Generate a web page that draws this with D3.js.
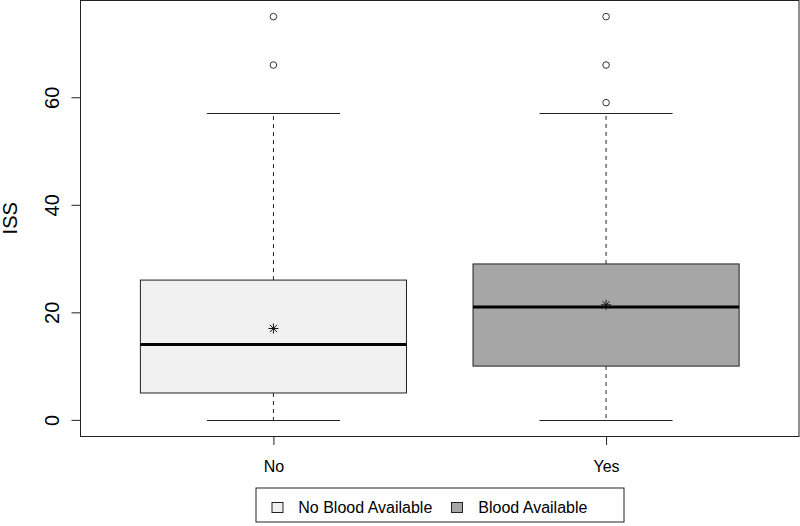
<!DOCTYPE html>
<html>
<head>
<meta charset="utf-8">
<script src="https://cdn.jsdelivr.net/npm/d3@7"></script>
<style>
  html, body { margin: 0; padding: 0; background: #fff; }
  svg { display: block; font-family: "Liberation Sans", Arial, sans-serif; }
</style>
</head>
<body>
<svg id="chart" width="800" height="526"></svg>
<script>
// ---- data ----
const categories = ["No", "Yes"];
const legendLabels = ["No Blood Available", "Blood Available"];
const fills = ["#f0f0f0", "#a6a6a6"];
const whiskerLow = [0, 0];
const q1 = [5, 10];
const median = [14, 21];
const q3 = [26, 29];
const whiskerHigh = [57, 57];
const means = [17.0, 21.4];
const outliers = [[66, 75], [59, 66, 75]];
const yTicks = [0, 20, 40, 60];
const yLabel = "ISS";

// ---- layout ----
const svg = d3.select("#chart");
const plot = { left: 80.5, right: 799, top: 0.5, bottom: 436 };

const x = d3.scaleLinear().domain([0.42, 2.58]).range([plot.left, plot.right]);
const y = d3.scaleLinear().domain([-3, 78]).range([plot.bottom, plot.top]);

const boxW = 0.8, capW = 0.4;
const data = categories.map((c, i) => ({
  c, i, pos: i + 1, lo: whiskerLow[i], q1: q1[i], med: median[i], q3: q3[i],
  hi: whiskerHigh[i], mean: means[i], out: outliers[i], fill: fills[i]
}));

const g = svg.append("g");

// whiskers (dashed)
g.selectAll(".wlo").data(data).join("line")
  .attr("x1", d => x(d.pos)).attr("x2", d => x(d.pos))
  .attr("y1", d => y(d.q1)).attr("y2", d => y(d.lo))
  .attr("stroke", "#222").attr("stroke-width", 1).attr("stroke-dasharray", "4,4");
g.selectAll(".whi").data(data).join("line")
  .attr("x1", d => x(d.pos)).attr("x2", d => x(d.pos))
  .attr("y1", d => y(d.q3)).attr("y2", d => y(d.hi))
  .attr("stroke", "#222").attr("stroke-width", 1).attr("stroke-dasharray", "4,4");
// caps
["lo", "hi"].forEach(k => {
  g.selectAll(".cap" + k).data(data).join("line")
    .attr("x1", d => x(d.pos - capW / 2)).attr("x2", d => x(d.pos + capW / 2))
    .attr("y1", d => Math.round(y(d[k])) + 0.5).attr("y2", d => Math.round(y(d[k])) + 0.5)
    .attr("stroke", "#222").attr("stroke-width", 1);
});
// boxes
g.selectAll(".box").data(data).join("rect")
  .attr("x", d => x(d.pos - boxW / 2)).attr("width", d => x(d.pos + boxW / 2) - x(d.pos - boxW / 2))
  .attr("y", d => y(d.q3)).attr("height", d => y(d.q1) - y(d.q3))
  .attr("fill", d => d.fill).attr("stroke", "#222").attr("stroke-width", 1);
// medians
g.selectAll(".med").data(data).join("line")
  .attr("x1", d => x(d.pos - boxW / 2)).attr("x2", d => x(d.pos + boxW / 2))
  .attr("y1", d => y(d.med)).attr("y2", d => y(d.med))
  .attr("stroke", "#000").attr("stroke-width", 3);
// outliers
data.forEach(d => {
  g.selectAll(null).data(d.out).join("circle")
    .attr("cx", x(d.pos)).attr("cy", v => y(v)).attr("r", 3.3)
    .attr("fill", "#fff").attr("stroke", "#333").attr("stroke-width", 1);
});
// means (asterisk)
const s = 5;
data.forEach(d => {
  const cx = x(d.pos), cy = y(d.mean);
  const p = d3.path();
  p.moveTo(cx - s, cy); p.lineTo(cx + s, cy);
  p.moveTo(cx, cy - s); p.lineTo(cx, cy + s);
  const t = s * 0.72;
  p.moveTo(cx - t, cy - t); p.lineTo(cx + t, cy + t);
  p.moveTo(cx - t, cy + t); p.lineTo(cx + t, cy - t);
  g.append("path").attr("d", p.toString()).attr("stroke", "#111").attr("stroke-width", 1).attr("fill", "none");
});

// frame
svg.append("rect").attr("x", plot.left).attr("y", plot.top)
  .attr("width", plot.right - plot.left).attr("height", plot.bottom - plot.top + 0.5)
  .attr("fill", "none").attr("stroke", "#222").attr("stroke-width", 1);

// y axis
const yAxis = d3.axisLeft(y).tickValues(yTicks).tickSize(9).tickFormat("").tickSizeOuter(0);
const ya = svg.append("g").attr("transform", `translate(${plot.left},0)`).call(yAxis);
ya.select(".domain").remove();
ya.selectAll(".tick line").attr("stroke", "#222");
ya.selectAll(".tick").append("text")
  .attr("transform", "translate(-22,0) rotate(-90)")
  .attr("text-anchor", "middle").attr("fill", "#000").attr("font-size", 20)
  .attr("dy", 0).text(d => d);

// x axis
const xAxis = d3.axisBottom(x).tickValues(data.map(d => d.pos)).tickSize(9).tickSizeOuter(0)
  .tickFormat((d, i) => categories[i]);
const xa = svg.append("g").attr("transform", `translate(0,${plot.bottom})`).call(xAxis);
xa.select(".domain").remove();
xa.selectAll(".tick line").attr("stroke", "#222");
xa.selectAll(".tick text").attr("font-size", 16).attr("fill", "#000")
  .attr("y", 36).attr("dy", 0).attr("font-family", "Liberation Sans, Arial, sans-serif");

// y label
svg.append("text").attr("transform", `translate(17,${(plot.top + plot.bottom) / 2}) rotate(-90)`)
  .attr("text-anchor", "middle").attr("font-size", 20).attr("fill", "#000").text(yLabel);

// legend
const lg = svg.append("g");
lg.append("rect").attr("x", 256).attr("y", 488).attr("width", 368).attr("height", 34)
  .attr("fill", "#fff").attr("stroke", "#222").attr("stroke-width", 1);
const legX = [272, 451.5];
const txtX = [298.3, 478.3];
legendLabels.forEach((l, i) => {
  lg.append("rect").attr("x", legX[i]).attr("y", 502.5).attr("width", 11).attr("height", 10)
    .attr("fill", fills[i]).attr("stroke", "#222").attr("stroke-width", 1);
  lg.append("text").attr("x", txtX[i]).attr("y", 512.5).attr("font-size", 16).attr("fill", "#000").text(l);
});
</script>
</body>
</html>
